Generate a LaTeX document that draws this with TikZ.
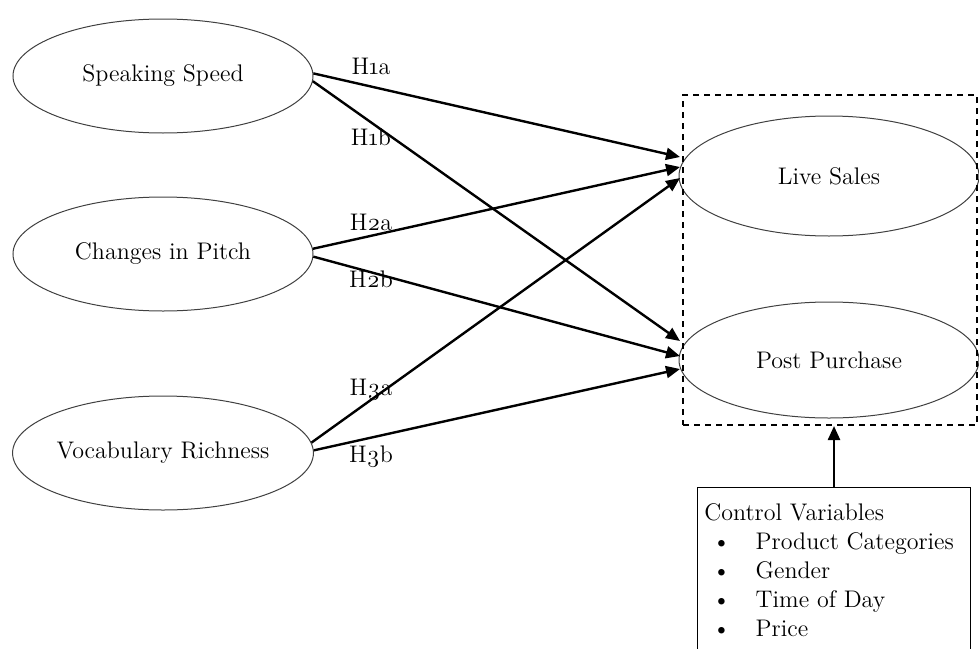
\documentclass[tikz,border=0pt]{standalone}
\usepackage{fontspec}
\setmainfont{Latin Modern Roman}[Numbers=OldStyle]
\usetikzlibrary{arrows.meta,shapes.geometric}
\begin{document}
\begin{tikzpicture}[x=0.5pt,y=-0.5pt,
  font=\fontsize{12}{14.5}\selectfont,
  construct/.style={draw=black!75,line width=0.5pt,ellipse,minimum width=150pt,minimum height=57pt,inner sep=0pt},
  path/.style={line width=1.2pt,-{Triangle[length=7pt,width=6pt]}},
  hlabel/.style={inner sep=0pt}]
\useasboundingbox (0,0) rectangle (979,648);
% left constructs
\node[construct] (ss) at (163,76) {Speaking Speed};
\node[construct] (cp) at (163,254) {Changes in Pitch};
\node[construct] (vr) at (163,453) {Vocabulary Richness};
% right constructs
\node[construct,minimum height=60pt] (ls) at (829,176) {Live Sales};
\node[construct,minimum height=58pt] (pp) at (829,360) {Post Purchase};
% dashed box
\node[draw,dashed,dash pattern=on 3pt off 2.5pt,line width=1pt,minimum width=147pt,minimum height=165pt,inner sep=0pt] (dbox) at (830,260) {};
% end points
\coordinate (e1a) at (680,157);
\coordinate (e2a) at (680,167);
\coordinate (e3a) at (680,178);
\coordinate (e1b) at (680,341);
\coordinate (e2b) at (680,356);
\coordinate (e3b) at (680,369);
% paths
\draw[path] (ss.1.5) -- (e1a);
\draw[path] (ss.-2) -- (e1b);
\draw[path] (cp.2) -- (e2a);
\draw[path] (cp.-1) -- (e2b);
\draw[path] (vr.4) -- (e3a);
\draw[path] (vr.1) -- (e3b);
% labels
\node[hlabel] (l1a) at (371,66) {H1a};
\node[hlabel] (l1b) at (371,137) {H1b};
\node[hlabel] (l2a) at (371,222) {H2a};
\node[hlabel] (l2b) at (371,279) {H2b};
\node[hlabel] (l3a) at (371,390) {H3a};
\node[hlabel] (l3b) at (371,457) {H3b};
% control variables
\node[draw,line width=0.5pt,anchor=north west,minimum width=136.5pt,minimum height=84pt,inner sep=0pt] (cv) at (697,487) {};
\node[anchor=north west,inner sep=0pt,align=left] (cvt) at (704,500) {%
\begin{tabular}{@{}l@{}l@{}}
\multicolumn{2}{@{}l@{}}{Control Variables}\\
\hspace{4pt}\textbullet\hspace{12.5pt} & Product Categories\\
\hspace{4pt}\textbullet\hspace{12.5pt} & Gender\\
\hspace{4pt}\textbullet\hspace{12.5pt} & Time of Day\\
\hspace{4pt}\textbullet\hspace{12.5pt} & Price
\end{tabular}};
\draw[path] (cv.north) -- (cv.north |- dbox.south);
\end{tikzpicture}
\end{document}
